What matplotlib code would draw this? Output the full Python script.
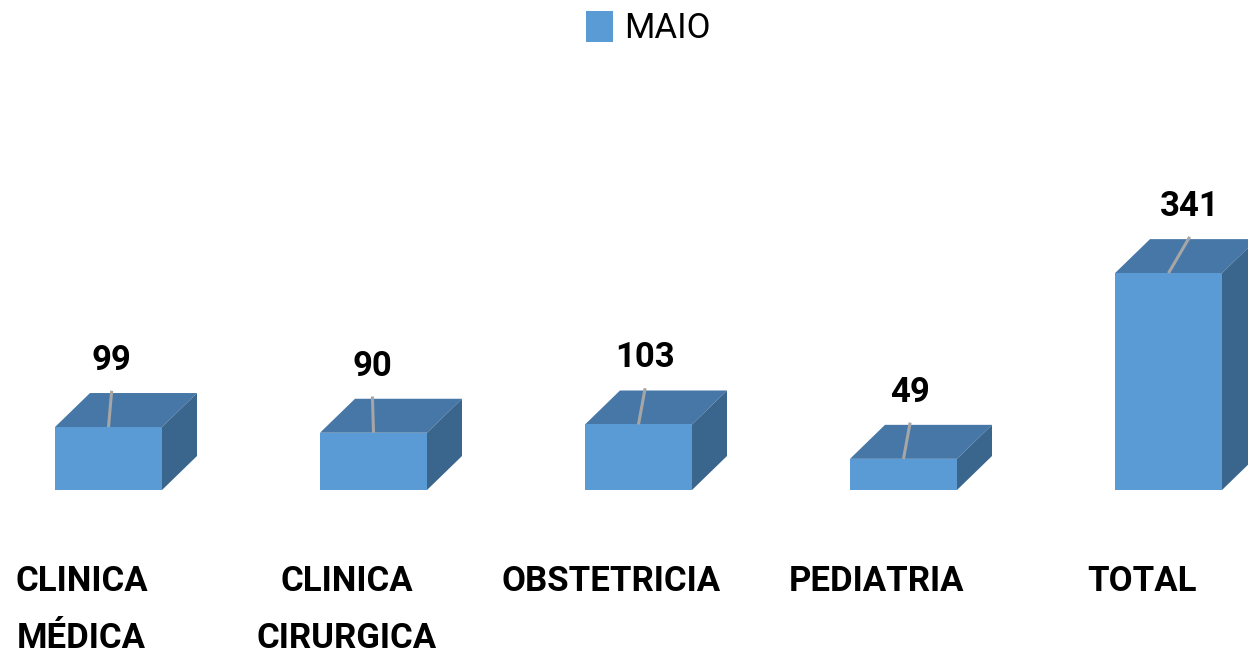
import matplotlib
matplotlib.use('Agg')
import matplotlib.pyplot as plt
from matplotlib.patches import Polygon, Patch

# dados do grafico
categorias = ['CLINICA\nMÉDICA', 'CLINICA\nCIRURGICA', 'OBSTETRICIA', 'PEDIATRIA', 'TOTAL']
valores = [99, 90, 103, 49, 341]
serie = 'MAIO'
# pequeno ajuste horizontal dos rotulos de valor (como no Excel)
ajuste_rotulo = [0.012, -0.004, 0.025, 0.025, 0.08]

cor_frente = '#5B9BD5'
cor_topo = '#4677A6'
cor_lado = '#3A658D'
cor_linha = '#A6A6A6'

fonte = ['DejaVu Sans Condensed', 'Roboto', 'DejaVu Sans']
plt.rcParams['font.family'] = fonte

W, H = 1248, 655
fig = plt.figure(figsize=(W / 100, H / 100), dpi=100)

# eixo ocupa a figura ate a linha de base dos blocos
base_px = 490
px_x = 265.0      # pixels por categoria
px_y = 0.636      # pixels por unidade
ax = fig.add_axes([0, (H - base_px) / H, 1, base_px / H])
ax.set_xlim(-108.5 / px_x, (W - 108.5) / px_x)
ax.set_ylim(0, base_px / px_y)
ax.axis('off')

largura = 107 / px_x
dx = 35 / px_x
dy = 34 / px_y

x = list(range(len(valores)))
ax.bar(x, valores, width=largura, color=cor_frente, zorder=3, clip_on=False)

for i, v in enumerate(valores):
    esq = i - largura / 2
    dirr = i + largura / 2
    topo = Polygon([(esq, v), (dirr, v), (dirr + dx, v + dy), (esq + dx, v + dy)],
                   closed=True, facecolor=cor_topo, edgecolor='none', zorder=2, clip_on=False)
    lado = Polygon([(dirr, 0), (dirr + dx, dy), (dirr + dx, v + dy), (dirr, v)],
                   closed=True, facecolor=cor_lado, edgecolor='none', zorder=2, clip_on=False)
    ax.add_patch(topo)
    ax.add_patch(lado)

    # linha guia e rotulo de valor
    xr = i + ajuste_rotulo[i]
    ax.plot([i, xr], [v, v + 57], color=cor_linha, lw=2.2, zorder=4, solid_capstyle='butt')
    ax.text(xr, v + 90, str(v), ha='center', va='baseline', fontsize=25,
            fontweight='bold', color='black', zorder=5)

# rotulos das categorias (abaixo dos blocos)
for i, cat in enumerate(categorias):
    linhas = cat.split('\n')
    for k, t in enumerate(linhas):
        yb = 591 + 57 * k
        ax.text(i - 27 / px_x, 1 - yb / base_px, t, transform=ax.get_xaxis_transform(),
                ha='center', va='baseline', fontsize=25, fontweight='bold', color='black')

# legenda
fig.legend(handles=[Patch(facecolor=cor_frente, edgecolor='none', label=serie)],
           loc='center', bbox_to_anchor=(648 / W, 1 - 28 / H), frameon=False,
           handlelength=0.8, handleheight=1.0, handletextpad=0.3,
           prop={'family': fonte, 'size': 25})

fig.savefig('out.png', dpi=100)
